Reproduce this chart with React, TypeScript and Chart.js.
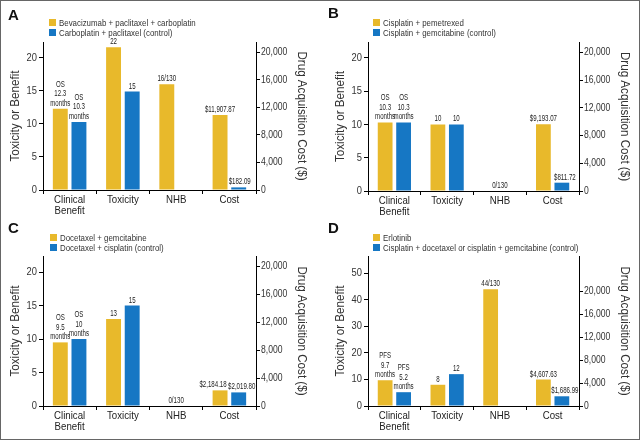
import React, { useEffect, useRef } from "react";
import { Chart, registerables } from "chart.js";
Chart.register(...registerables);

const FAMILY = "'Liberation Sans', Arial, Helvetica, sans-serif";

// ---- data ----
const categories = [["Clinical", "Benefit"], ["Toxicity"], ["NHB"], ["Cost"]];
const leftTitle = "Toxicity or Benefit";
const rightTitle = "Drug Acquisition Cost ($)";

// Panel A
const aLetter = "A";
const aLegend = ["Bevacizumab + paclitaxel + carboplatin", "Carboplatin + paclitaxel (control)"];
const aGold = [12.3, 21.6, 16, null];
const aBlue = [10.3, 14.9, null, null];
const aGoldCost = [null, null, null, 10900];
const aBlueCost = [null, null, null, 380];
const aGoldLabels = ["OS\n12.3\nmonths", "22", "16/130", "$11,907.87"];
const aBlueLabels = ["OS\n10.3\nmonths", "15", "", "$182.09"];

// Panel B
const bLetter = "B";
const bLegend = ["Cisplatin + pemetrexed", "Cisplatin + gemcitabine (control)"];
const bGold = [10.3, 10, 0, null];
const bBlue = [10.3, 10, null, null];
const bGoldCost = [null, null, null, 9640];
const bBlueCost = [null, null, null, 1200];
const bGoldLabels = ["OS\n10.3\nmonths", "10", "0/130", "$9,193.07"];
const bBlueLabels = ["OS\n10.3\nmonths", "10", "", "$811.72"];

// Panel C
const cLetter = "C";
const cLegend = ["Docetaxel + gemcitabine", "Docetaxel + cisplatin (control)"];
const cGold = [9.5, 13, 0, null];
const cBlue = [10, 15, null, null];
const cGoldCost = [null, null, null, 2240];
const cBlueCost = [null, null, null, 1950];
const cGoldLabels = ["OS\n9.5\nmonths", "13", "0/130", "$2,184.18"];
const cBlueLabels = ["OS\n10\nmonths", "15", "", "$2,019.80"];

// Panel D
const dLetter = "D";
const dLegend = ["Erlotinib", "Cisplatin + docetaxel or cisplatin + gemcitabine (control)"];
const dGold = [9.7, 8, 44, null];
const dBlue = [5.2, 12, null, null];
const dGoldCost = [null, null, null, 4610];
const dBlueCost = [null, null, null, 1690];
const dGoldLabels = ["PFS\n9.7\nmonths", "8", "44/130", "$4,607.63"];
const dBlueLabels = ["PFS\n5.2\nmonths", "12", "", "$1,686.99"];

// axis ranges and ticks
const abcLeftMax = 22.4;
const abcRightMax = 21500;
const dLeftMax = 56.5;
const dRightMax = 26100;
const abcLeftTicks = [0, 5, 10, 15, 20];
const dLeftTicks = [0, 10, 20, 30, 40, 50];
const rightTicks = [0, 4000, 8000, 12000, 16000, 20000];

// ---- layout / style ----
const GOLD = "#E8B92B";
const BLUE = "#1677C4";
const W = 320;
const H = 220;

const panels = [
  { pos: [0, 0], letter: aLetter, legend: aLegend, gold: aGold, blue: aBlue, goldCost: aGoldCost, blueCost: aBlueCost, goldLabels: aGoldLabels, blueLabels: aBlueLabels, leftMax: abcLeftMax, leftTicks: abcLeftTicks, rightMax: abcRightMax, box: { left: 43, right: 256, top: 42, bottom: 190, lx: 49, ly: 19, letterY: 20, costShift: [0, 1] } },
  { pos: [320, 0], letter: bLetter, legend: bLegend, gold: bGold, blue: bBlue, goldCost: bGoldCost, blueCost: bBlueCost, goldLabels: bGoldLabels, blueLabels: bBlueLabels, leftMax: abcLeftMax, leftTicks: abcLeftTicks, rightMax: abcRightMax, box: { left: 48, right: 259, top: 42, bottom: 191, lx: 53, ly: 19, letterY: 18, costShift: [0, 3] } },
  { pos: [0, 220], letter: cLetter, legend: cLegend, gold: cGold, blue: cBlue, goldCost: cGoldCost, blueCost: cBlueCost, goldLabels: cGoldLabels, blueLabels: cBlueLabels, leftMax: abcLeftMax, leftTicks: abcLeftTicks, rightMax: abcRightMax, box: { left: 43, right: 256, top: 36, bottom: 186, lx: 50, ly: 14, letterY: 13, costShift: [-7, 3] } },
  { pos: [320, 220], letter: dLetter, legend: dLegend, gold: dGold, blue: dBlue, goldCost: dGoldCost, blueCost: dBlueCost, goldLabels: dGoldLabels, blueLabels: dBlueLabels, leftMax: dLeftMax, leftTicks: dLeftTicks, rightMax: dRightMax, box: { left: 48, right: 259, top: 36, bottom: 186, lx: 53, ly: 14, letterY: 13, costShift: [0, 3] } },
];

function text(ctx: any, s: string, x: number, y: number, size: number, sx: number, align: string, baseline: string, color: string, rot = 0, weight = "") {
  ctx.save();
  ctx.translate(x, y);
  if (rot) ctx.rotate(rot);
  ctx.scale(sx, 1);
  ctx.font = `${weight ? weight + " " : ""}${size}px ${FAMILY}`;
  ctx.textAlign = align;
  ctx.textBaseline = baseline;
  ctx.fillStyle = color;
  ctx.fillText(s, 0, 0);
  ctx.restore();
}

function makeOverlay(p: any) {
  return {
    id: "overlay",
    afterDraw(chart: any) {
      const ctx = chart.ctx;
      const xs = chart.scales.x;
      const yl = chart.scales.y;
      const yr = chart.scales.y2;
      const ca = chart.chartArea;
      const b = p.box;
      // bar value labels
      chart.data.datasets.forEach((ds: any, di: number) => {
        const meta = chart.getDatasetMeta(di);
        const labels = di % 2 === 0 ? p.goldLabels : p.blueLabels;
        meta.data.forEach((el: any, i: number) => {
          const v = ds.data[i];
          if (v === null || v === undefined) return;
          const txt = labels[i];
          if (!txt) return;
          const lines = txt.split("\n");
          let x = v === 0 ? xs.getPixelForValue(i) : el.x;
          if (di >= 2) x += b.costShift[di - 2];
          let y = el.y - 3;
          for (let k = lines.length - 1; k >= 0; k--) {
            text(ctx, lines[k], x, y, 8.5, 0.72, "center", "alphabetic", "#222");
            y -= 9.5;
          }
        });
      });
      // left tick labels
      yl.ticks.forEach((t: any, i: number) => {
        text(ctx, String(t.value), ca.left - 6, yl.getPixelForTick(i), 11, 0.85, "right", "middle", "#333");
      });
      // right tick labels
      yr.ticks.forEach((t: any, i: number) => {
        text(ctx, Number(t.value).toLocaleString("en-US"), ca.right + 5, yr.getPixelForTick(i), 10.5, 0.82, "left", "middle", "#333");
      });
      // category labels
      categories.forEach((lines, i) => {
        const x = xs.getPixelForValue(i);
        lines.forEach((s, k) => {
          text(ctx, s, x, ca.bottom + 10 + k * 11, 10.5, 0.92, "center", "middle", "#222");
        });
      });
      // axis titles
      const midY = (ca.top + ca.bottom) / 2;
      text(ctx, leftTitle, ca.left - 28, midY, 13.5, 0.86, "center", "middle", "#333", -Math.PI / 2);
      text(ctx, rightTitle, ca.right + 46, midY, 13.5, 0.86, "center", "middle", "#333", Math.PI / 2);
      // legend
      [GOLD, BLUE].forEach((c, k) => {
        const y = b.ly + k * 10;
        ctx.fillStyle = c;
        ctx.fillRect(b.lx, y, 7, 7);
        text(ctx, p.legend[k], b.lx + 10, y + 4, 9.5, 0.83, "left", "middle", "#333");
      });
      // panel letter
      text(ctx, p.letter, 8, b.letterY, 15, 1, "left", "alphabetic", "#111", 0, "bold");
    },
  };
}

function Panel({ p }: { p: any }) {
  const ref = useRef<HTMLCanvasElement | null>(null);
  useEffect(() => {
    if (!ref.current) return;
    const b = p.box;
    const barOpts = { categoryPercentage: 0.7, barPercentage: 0.8, borderWidth: 0 };
    const chart = new Chart(ref.current, {
      type: "bar",
      data: {
        labels: categories.map((c) => c.join(" ")),
        datasets: [
          { data: p.gold, backgroundColor: GOLD, yAxisID: "y", stack: "gold", ...barOpts } as any,
          { data: p.blue, backgroundColor: BLUE, yAxisID: "y", stack: "blue", ...barOpts } as any,
          { data: p.goldCost, backgroundColor: GOLD, yAxisID: "y2", stack: "gold", ...barOpts } as any,
          { data: p.blueCost, backgroundColor: BLUE, yAxisID: "y2", stack: "blue", ...barOpts } as any,
        ],
      },
      options: {
        responsive: false,
        animation: false,
        devicePixelRatio: 1,
        layout: { padding: { top: b.top, left: 0, right: 0, bottom: 0 } },
        plugins: { legend: { display: false }, tooltip: { enabled: false } },
        scales: {
          x: {
            grid: { offset: true, drawOnChartArea: false, drawTicks: true, tickLength: 4, color: "#000" },
            border: { display: true, color: "#000", width: 1 },
            ticks: { display: false, autoSkip: false },
            afterFit: (s: any) => { s.height = H - b.bottom; },
          },
          y: {
            position: "left",
            min: 0,
            max: p.leftMax,
            grid: { drawOnChartArea: false, drawTicks: true, tickLength: 4, color: "#000" },
            border: { display: true, color: "#000", width: 1 },
            ticks: { display: false },
            afterBuildTicks: (s: any) => { s.ticks = p.leftTicks.map((v: number) => ({ value: v })); },
            afterFit: (s: any) => { s.width = b.left; },
          },
          y2: {
            position: "right",
            min: 0,
            max: p.rightMax,
            grid: { drawOnChartArea: false, drawTicks: true, tickLength: 4, color: "#000" },
            border: { display: true, color: "#000", width: 1 },
            ticks: { display: false },
            afterBuildTicks: (s: any) => { s.ticks = rightTicks.map((v: number) => ({ value: v })); },
            afterFit: (s: any) => { s.width = W - b.right; },
          },
        },
      } as any,
      plugins: [makeOverlay(p)],
    });
    return () => chart.destroy();
  }, [p]);
  return (
    <canvas
      ref={ref}
      width={W}
      height={H}
      style={{ position: "absolute", left: p.pos[0], top: p.pos[1], width: W, height: H }}
    />
  );
}

export default function App() {
  return (
    <div style={{ position: "fixed", left: 0, top: 0, width: 640, height: 440, background: "#fff", overflow: "hidden" }}>
      {panels.map((p, i) => (
        <Panel key={i} p={p} />
      ))}
      <div style={{ position: "absolute", left: 0, top: 0, width: 640, height: 440, boxSizing: "border-box", border: "1px solid #666", pointerEvents: "none" }} />
    </div>
  );
}
